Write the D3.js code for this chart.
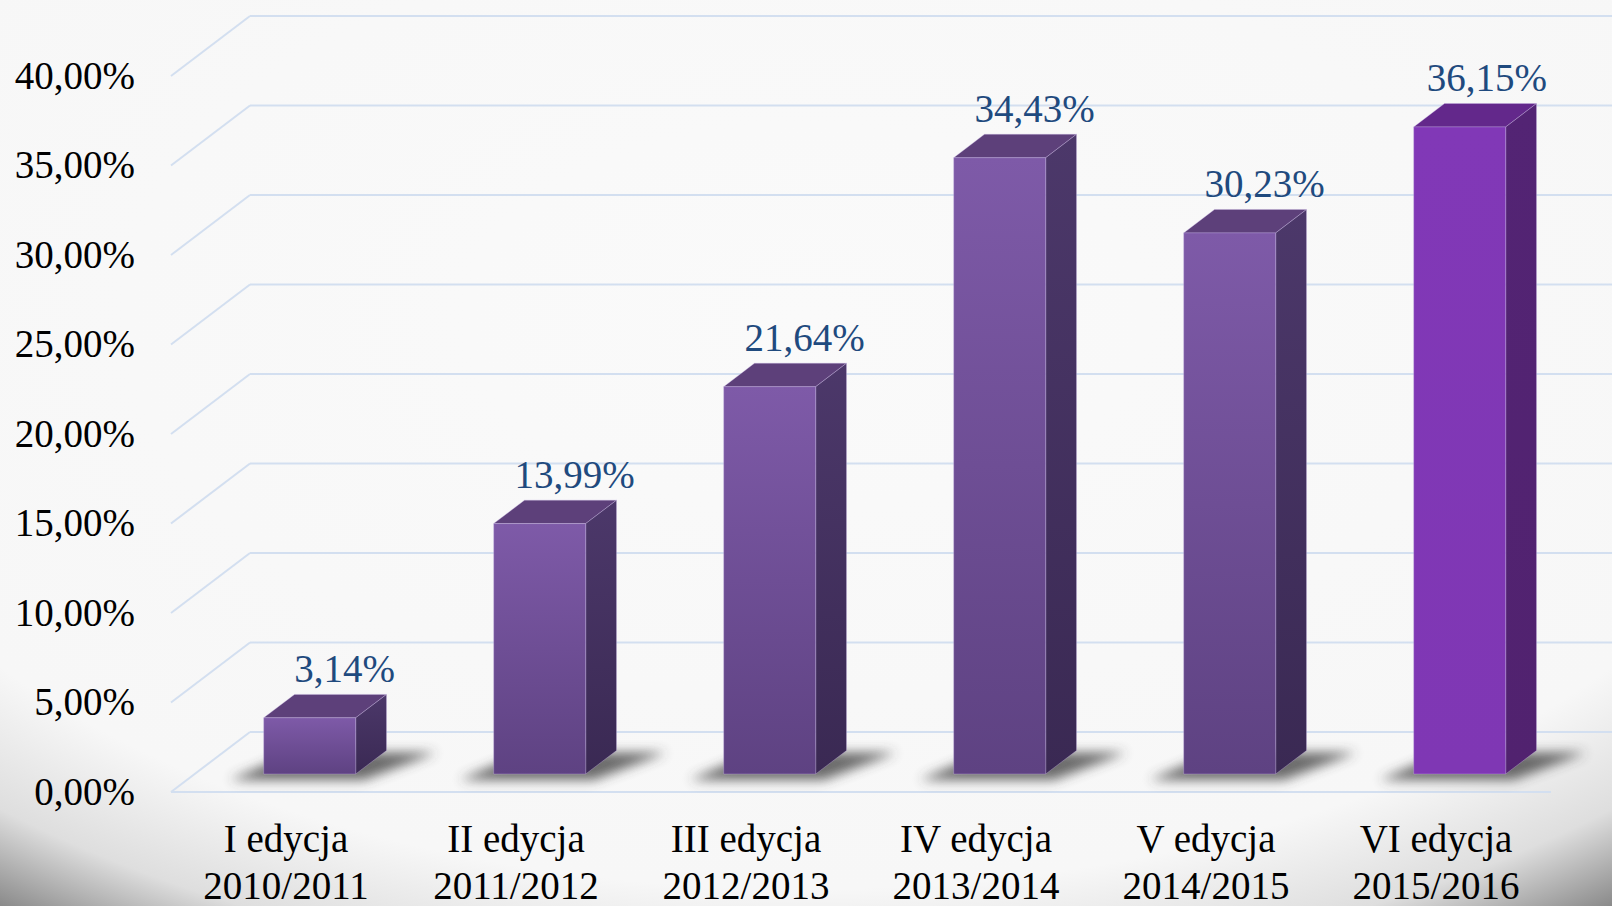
<!DOCTYPE html>
<html>
<head>
<meta charset="utf-8">
<script src="https://cdn.jsdelivr.net/npm/d3@7"></script>
<style>
  html, body { margin: 0; padding: 0; overflow: hidden; }
  svg { display: block; }
</style>
</head>
<body>
<svg id="chart"></svg>
<script>
// editions (first label line), years (second line), share values in %
const editions = ['I edycja', 'II edycja', 'III edycja', 'IV edycja', 'V edycja', 'VI edycja'];
const years = ['2010/2011', '2011/2012', '2012/2013', '2013/2014', '2014/2015', '2015/2016'];
const values = [3.14, 13.99, 21.64, 34.43, 30.23, 36.15];
const yTicks = [0, 5, 10, 15, 20, 25, 30, 35, 40];

class Bar3DChart {

    constructor(_config) {
        this.config = {
            parentElement: _config.parentElement,
            containerWidth: 1612,
            containerHeight: 906,
            floorLeft: 171,
            floorRight: 1551,
            floorY: 792,
            topY: 76,
            depthX: 79,
            depthY: 60,
            highlight: 'VI edycja'
        };
        this.initVis();
    }

    initVis() {
        let vis = this;
        const c = vis.config;

        vis.svg = d3.select(c.parentElement)
            .attr('width', c.containerWidth)
            .attr('height', c.containerHeight);

        const defs = vis.svg.append('defs');

        // background vignette, darker only in the bottom corners
        const bg = defs.append('radialGradient')
            .attr('id', 'bg-grad')
            .attr('cx', 0.5).attr('cy', 0.35).attr('r', 0.82);
        bg.append('stop').attr('offset', 0).attr('stop-color', '#fafafa');
        bg.append('stop').attr('offset', 0.77).attr('stop-color', '#f7f7f7');
        bg.append('stop').attr('offset', 0.9).attr('stop-color', '#dedede');
        bg.append('stop').attr('offset', 1).attr('stop-color', '#8a8a8a');

        const grad = (id, top, bottom) => {
            const g = defs.append('linearGradient').attr('id', id)
                .attr('x1', 0).attr('y1', 0).attr('x2', 0).attr('y2', 1);
            g.append('stop').attr('offset', 0).attr('stop-color', top);
            g.append('stop').attr('offset', 1).attr('stop-color', bottom);
        };
        grad('front-std', '#7e5aa8', '#5e4282');
        grad('side-std', '#4c386a', '#3a2953');
        grad('front-hl', '#8138b7', '#7f37b4');
        grad('side-hl', '#532474', '#51226f');

        defs.append('filter').attr('id', 'shadow-blur')
            .attr('x', '-50%').attr('y', '-100%').attr('width', '200%').attr('height', '300%')
            .append('feGaussianBlur').attr('stdDeviation', 6);

        vis.svg.append('rect')
            .attr('width', c.containerWidth)
            .attr('height', c.containerHeight)
            .attr('fill', 'url(#bg-grad)');

        vis.yScale = d3.scaleLinear()
            .domain([0, 40])
            .range([c.floorY, c.topY]);

        vis.xScale = d3.scaleBand()
            .domain(editions)
            .range([c.floorLeft, c.floorRight])
            .paddingInner(0.6)
            .paddingOuter(0.3);

        vis.grid = vis.svg.append('g');
        vis.shadows = vis.svg.append('g');
        vis.bars = vis.svg.append('g');
        vis.labels = vis.svg.append('g');

        vis.yAxis = d3.axisLeft(vis.yScale)
            .tickValues(yTicks)
            .tickSize(0)
            .tickPadding(36);

        vis.yAxisGroup = vis.svg.append('g')
            .attr('class', 'axis y-axis')
            .attr('transform', `translate(${c.floorLeft},0)`);
    }

    updateVis() {
        let vis = this;
        vis.data = editions.map((e, i) => ({edition: e, year: years[i], value: values[i]}));
        vis.fmt = d3.formatLocale({decimal: ',', thousands: ' ', grouping: [3], currency: ['', '']})
            .format('.2f');
        vis.fmt2 = d => vis.fmt(d) + '%';
        vis.yAxis.tickFormat(vis.fmt2);
        vis.renderVis();
    }

    renderVis() {
        let vis = this;
        const c = vis.config;
        const font = '"Liberation Serif", "Times New Roman", serif';

        // grid: back wall lines + diagonal side lines
        vis.grid.selectAll('.wall-line')
            .data(yTicks)
            .join('line')
            .attr('class', 'wall-line')
            .attr('x1', c.floorLeft + c.depthX)
            .attr('x2', c.floorRight + c.depthX)
            .attr('y1', d => vis.yScale(d) - c.depthY)
            .attr('y2', d => vis.yScale(d) - c.depthY);

        vis.grid.selectAll('.side-line')
            .data(yTicks)
            .join('line')
            .attr('class', 'side-line')
            .attr('x1', c.floorLeft)
            .attr('x2', c.floorLeft + c.depthX)
            .attr('y1', d => vis.yScale(d))
            .attr('y2', d => vis.yScale(d) - c.depthY);

        vis.grid.append('line')
            .attr('x1', c.floorLeft)
            .attr('x2', c.floorRight)
            .attr('y1', vis.yScale(0))
            .attr('y2', vis.yScale(0));

        vis.grid.selectAll('line')
            .attr('stroke', '#d3dff0')
            .attr('stroke-width', 2);

        // bar geometry: front plane sits 30% into the floor, bar depth 39%
        const z0 = 0.3, dz = 0.39;
        const bw = vis.xScale.bandwidth();
        const ddx = dz * c.depthX, ddy = dz * c.depthY;
        const geo = d => {
            const L = vis.xScale(d.edition) + z0 * c.depthX;
            const B = vis.yScale(0) - z0 * c.depthY;
            const T = vis.yScale(d.value) - z0 * c.depthY;
            return {L, R: L + bw, B, T};
        };
        const isHl = d => d.edition === c.highlight;

        vis.shadows.selectAll('.shadow')
            .data(vis.data)
            .join('polygon')
            .attr('class', 'shadow')
            .attr('points', d => {
                const g = geo(d);
                return [
                    [g.L - 34, g.B + 6], [g.R + 8, g.B + 6],
                    [g.R + ddx + 50, g.B - ddy + 2], [g.L + ddx, g.B - ddy + 2]
                ].join(' ');
            })
            .attr('fill', '#3a3a3a')
            .attr('opacity', 0.75)
            .attr('filter', 'url(#shadow-blur)');

        const bar = vis.bars.selectAll('.bar')
            .data(vis.data)
            .join('g')
            .attr('class', 'bar');

        bar.append('polygon')
            .attr('points', d => {
                const g = geo(d);
                return [[g.L, g.T], [g.R, g.T], [g.R + ddx, g.T - ddy], [g.L + ddx, g.T - ddy]].join(' ');
            })
            .attr('fill', d => isHl(d) ? '#63288b' : '#5d407a');

        bar.append('polygon')
            .attr('points', d => {
                const g = geo(d);
                return [[g.R, g.T], [g.R + ddx, g.T - ddy], [g.R + ddx, g.B - ddy], [g.R, g.B]].join(' ');
            })
            .attr('fill', d => isHl(d) ? 'url(#side-hl)' : 'url(#side-std)');

        bar.append('rect')
            .attr('x', d => geo(d).L)
            .attr('y', d => geo(d).T)
            .attr('width', bw)
            .attr('height', d => geo(d).B - geo(d).T)
            .attr('fill', d => isHl(d) ? 'url(#front-hl)' : 'url(#front-std)');

        bar.selectAll('polygon, rect')
            .attr('stroke', 'rgba(200,180,230,0.35)')
            .attr('stroke-width', 1)
            .attr('stroke-linejoin', 'round');

        // value labels above each bar
        vis.labels.selectAll('.value-label')
            .data(vis.data)
            .join('text')
            .attr('class', 'value-label')
            .attr('text-anchor', 'middle')
            .attr('font-family', font)
            .attr('font-size', 39)
            .attr('fill', '#1f4a7e')
            .attr('y', d => geo(d).T - ddy - 12.5)
            .text(d => vis.fmt2(d.value))
            .attr('x', function (d) {
                const g = geo(d);
                const w = this.getComputedTextLength();
                return Math.min(g.L + bw / 2 + 35, c.floorRight - 4 - w / 2);
            });

        // category labels, two lines
        const cat = vis.labels.selectAll('.cat-label')
            .data(vis.data)
            .join('text')
            .attr('class', 'cat-label')
            .attr('text-anchor', 'middle')
            .attr('font-family', font)
            .attr('font-size', 39)
            .attr('fill', '#000');
        cat.append('tspan')
            .attr('x', d => vis.xScale(d.edition) + bw / 2)
            .attr('y', 852)
            .text(d => d.edition);
        cat.append('tspan')
            .attr('x', d => vis.xScale(d.edition) + bw / 2)
            .attr('y', 899)
            .text(d => d.year);

        vis.yAxisGroup.call(vis.yAxis)
            .call(g => g.select('.domain').remove())
            .attr('font-family', font)
            .attr('font-size', 39);
        vis.yAxisGroup.selectAll('text').attr('fill', '#000');
    }
}

const chart = new Bar3DChart({parentElement: '#chart'});
chart.updateVis();
</script>
</body>
</html>
